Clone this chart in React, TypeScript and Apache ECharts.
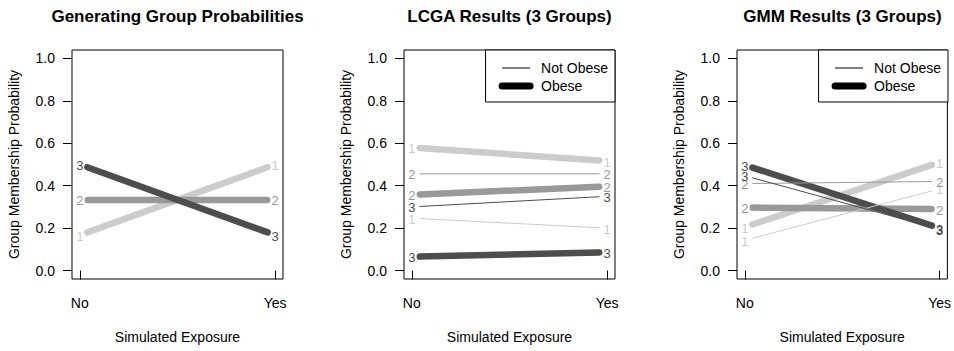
import React, { useEffect, useRef } from "react";
import * as echarts from "echarts";

const FONT = "'Liberation Sans', Arial, Helvetica, sans-serif";

// Categories and tick labels
const EXPOSURE = ["No", "Yes"];
const Y_TICKS = [0, 0.2, 0.4, 0.6, 0.8, 1.0];
const GROUP_LABELS = ["1", "2", "3"];
const PANEL_TITLES = [
  "Generating Group Probabilities",
  "LCGA Results (3 Groups)",
  "GMM Results (3 Groups)",
];
const LEGEND_NAMES = ["Not Obese", "Obese"];

// Panel 1: generating group probabilities (groups 1..3)
const GEN_NO = [0.167, 0.333, 0.5];
const GEN_YES = [0.5, 0.333, 0.167];

// Panel 2: LCGA results
const LCGA_OBESE_NO = [0.58, 0.357, 0.065];
const LCGA_OBESE_YES = [0.516, 0.397, 0.086];
const LCGA_NOTOBESE_NO = [0.247, 0.456, 0.3];
const LCGA_NOTOBESE_YES = [0.2, 0.456, 0.35];

// Panel 3: GMM results
const GMM_OBESE_NO = [0.205, 0.297, 0.497];
const GMM_OBESE_YES = [0.51, 0.29, 0.2];
const GMM_NOTOBESE_NO = [0.143, 0.41, 0.447];
const GMM_NOTOBESE_YES = [0.385, 0.42, 0.195];

const GROUP_COLORS = ["#cccccc", "#999999", "#4d4d4d"];
const THICK = 6.5;
const THIN = 1;
const LEGEND_THICK = 7;
const GAP = 8;

const GRIDS = [
  { left: 72, right: 671, top: 50, bottom: 72 },
  { left: 404, right: 339, top: 50, bottom: 72 },
  { left: 737, right: 6, top: 50, bottom: 72 },
];

function rows(no: number[], yes: number[], width: number) {
  return no.map((v, i) => [v, yes[i], i, width]);
}

const renderItem = (params: any, api: any) => {
  const v0 = api.value(0);
  const v1 = api.value(1);
  const g = api.value(2);
  const w = api.value(3);
  const p0 = api.coord([1, v0]);
  const p1 = api.coord([2, v1]);
  const dx = p1[0] - p0[0];
  const dy = p1[1] - p0[1];
  const len = Math.sqrt(dx * dx + dy * dy);
  const ux = dx / len;
  const uy = dy / len;
  const color = GROUP_COLORS[g];
  const txt = (p: number[]) => ({
    type: "text",
    x: p[0],
    y: p[1] + 1,
    silent: true,
    style: {
      text: GROUP_LABELS[g],
      fill: color,
      fontSize: 13,
      fontFamily: FONT,
      align: "center",
      verticalAlign: "middle",
    },
  });
  return {
    type: "group",
    children: [
      {
        type: "line",
        silent: true,
        shape: {
          x1: p0[0] + ux * GAP,
          y1: p0[1] + uy * GAP,
          x2: p1[0] - ux * GAP,
          y2: p1[1] - uy * GAP,
        },
        style: { stroke: color, lineWidth: w, lineCap: "round" },
      },
      txt(p0),
      txt(p1),
    ],
  };
};

export default function App() {
  const ref = useRef<HTMLDivElement>(null);
  useEffect(() => {
    if (!ref.current) return;
    const chart = echarts.init(ref.current, undefined, { renderer: "svg" });
    const panels = [
      [rows(GEN_NO, GEN_YES, THICK)],
      [
        rows(LCGA_OBESE_NO, LCGA_OBESE_YES, THICK),
        rows(LCGA_NOTOBESE_NO, LCGA_NOTOBESE_YES, THIN),
      ],
      [
        rows(GMM_OBESE_NO, GMM_OBESE_YES, THICK),
        rows(GMM_NOTOBESE_NO, GMM_NOTOBESE_YES, THIN),
      ],
    ];
    const series: any[] = [];
    panels.forEach((sets, i) => {
      sets.forEach((data) => {
        series.push({
          type: "custom",
          xAxisIndex: i,
          yAxisIndex: i,
          renderItem,
          data,
          silent: true,
        });
      });
    });
    // legend-only series
    series.push({
      type: "line",
      name: LEGEND_NAMES[0],
      data: [],
      xAxisIndex: 0,
      yAxisIndex: 0,
      symbol: "none",
      itemStyle: { color: "#000" },
      lineStyle: { color: "#000", width: THIN },
    });
    series.push({
      type: "line",
      name: LEGEND_NAMES[1],
      data: [],
      xAxisIndex: 0,
      yAxisIndex: 0,
      symbol: "none",
      itemStyle: { color: "#000" },
      lineStyle: { color: "#000", width: LEGEND_THICK, cap: "round" },
    });

    const textStyle = { fontFamily: FONT, fontSize: 14, color: "#000" };
    const legendBase = {
      orient: "vertical",
      top: 50,
      data: [
        { name: LEGEND_NAMES[0], lineStyle: { color: "#000", width: THIN } },
        {
          name: LEGEND_NAMES[1],
          lineStyle: { color: "#000", width: LEGEND_THICK, cap: "round" },
        },
      ],
      selectedMode: false,
      backgroundColor: "#fff",
      borderColor: "#000",
      borderWidth: 1,
      borderRadius: 0,
      padding: [11, 7, 9, 13],
      itemGap: 4,
      itemWidth: 28,
      itemHeight: 14,
      itemStyle: { opacity: 0 },
      textStyle: { ...textStyle, padding: [0, 0, 0, 6] },
    };

    chart.setOption({
      animation: false,
      backgroundColor: "#fff",
      textStyle: { fontFamily: FONT },
      title: PANEL_TITLES.map((t, i) => {
        const g = GRIDS[i];
        const center = (g.left + (954 - g.right)) / 2;
        return {
          text: t,
          left: center,
          top: 8,
          textAlign: "center",
          padding: 0,
          textStyle: { fontFamily: FONT, fontSize: 17, fontWeight: "bold", color: "#000" },
        };
      }),
      legend: [
        { ...legendBase, right: GRIDS[1].right },
        { ...legendBase, right: GRIDS[2].right },
      ],
      grid: GRIDS.map((g) => ({
        ...g,
        show: true,
        borderColor: "#000",
        borderWidth: 1,
        backgroundColor: "transparent",
        containLabel: false,
      })),
      xAxis: GRIDS.map((_, i) => ({
        type: "value",
        gridIndex: i,
        min: 0.96,
        max: 2.04,
        name: "Simulated Exposure",
        nameLocation: "middle",
        nameGap: 51,
        nameTextStyle: textStyle,
        axisLine: { show: false },
        splitLine: { show: false },
        axisTick: {
          show: true,
          inside: false,
          length: 9,
          customValues: [1, 2],
          lineStyle: { color: "#000", width: 1 },
        },
        axisLabel: {
          ...textStyle,
          margin: 17,
          customValues: [1, 2],
          formatter: (v: number) => EXPOSURE[Math.round(v) - 1],
        },
      })),
      yAxis: GRIDS.map((_, i) => ({
        type: "value",
        gridIndex: i,
        min: -0.04,
        max: 1.04,
        name: "Group Membership Probability",
        nameLocation: "middle",
        nameGap: 51,
        nameTextStyle: textStyle,
        axisLine: { show: false },
        splitLine: { show: false },
        axisTick: {
          show: true,
          inside: false,
          length: 9,
          customValues: Y_TICKS,
          lineStyle: { color: "#000", width: 1 },
        },
        axisLabel: {
          ...textStyle,
          margin: 17,
          customValues: Y_TICKS,
          formatter: (v: number) => v.toFixed(1),
        },
      })),
      series,
    });
    return () => chart.dispose();
  }, []);
  return (
    <div
      ref={ref}
      style={{ position: "absolute", left: 0, top: 0, width: 954, height: 351 }}
    />
  );
}
